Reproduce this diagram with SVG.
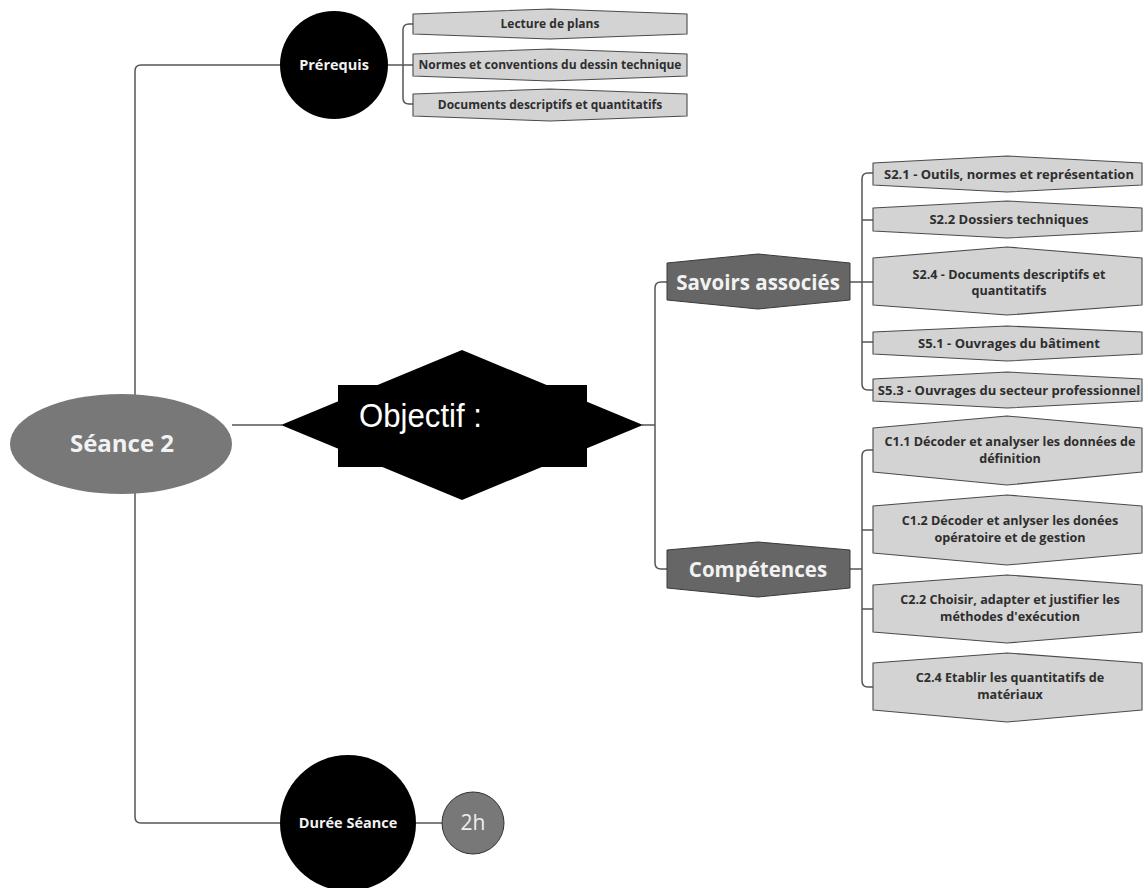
<svg xmlns="http://www.w3.org/2000/svg" width="1144" height="888" viewBox="0 0 1144 888">
<style>
.ln{fill:none;stroke:#555;stroke-width:1.5}
.box{fill:#d3d3d3;stroke:#4a4a4a;stroke-width:1.1;stroke-linejoin:round}
.hex{fill:#666;stroke:#3a3a3a;stroke-width:1;stroke-linejoin:round}
.bt{font-family:"Open Sans","Noto Sans",sans-serif;font-weight:bold;fill:#2e2e2e;text-anchor:middle}
.wt{font-family:"Open Sans","Noto Sans",sans-serif;font-weight:bold;fill:#f2f2f2;text-anchor:middle}
.s1{font-size:12px}
.s2{font-size:13px}
.s3{font-size:12.6px}
</style>
<rect width="1144" height="888" fill="#fff"/>
<g id="connectors">
<path class="ln" d="M280 65 H141 Q135 65 135 71 V817 Q135 823 141 823 H281"/>
<path class="ln" d="M232 425 H282"/>
<path class="ln" d="M388 65 H414"/>
<path class="ln" d="M414 24 H409 Q403 24 403 30 V98 Q403 104 409 104 H414"/>
<path class="ln" d="M642 425 H655"/>
<path class="ln" d="M668 282 H661 Q655 282 655 288 V563 Q655 569 661 569 H668"/>
<path class="ln" d="M850 282 H874"/>
<path class="ln" d="M874 173 H868 Q862 173 862 179 V384 Q862 390 868 390 H874"/>
<path class="ln" d="M862 220 H874 M862 342 H874"/>
<path class="ln" d="M850 569 H862"/>
<path class="ln" d="M874 450 H868 Q862 450 862 456 V681 Q862 687 868 687 H874"/>
<path class="ln" d="M862 530 H874 M862 609 H874"/>
<path class="ln" d="M416 823 H443"/>
</g>
<g id="seance">
<ellipse cx="121" cy="444" rx="111" ry="50" fill="#787878"/>
<text class="wt" x="122" y="452" font-size="24">Séance 2</text>
</g>
<g id="prerequis">
<circle cx="334" cy="65" r="54" fill="#000"/>
<text class="wt" x="334" y="70" font-size="14.5">Prérequis</text>
</g>
<g id="pr1">
<polygon class="box" points="413,14 550,9 687,14 687,34 550,39 413,34"/>
<text class="bt s1" x="550" y="28">Lecture de plans</text>
</g>
<g id="pr2">
<polygon class="box" points="413,54 550,49 687,54 687,76 550,81 413,76"/>
<text class="bt s1" x="550" y="69">Normes et conventions du dessin technique</text>
</g>
<g id="pr3">
<polygon class="box" points="413,94 550,89 687,94 687,116 550,121 413,116"/>
<text class="bt s1" x="550" y="109">Documents descriptifs et quantitatifs</text>
</g>
<g id="objectif">
<polygon points="281,425 462,350 643,425 462,500" fill="#000"/>
<rect x="338" y="385" width="249" height="82" fill="#000"/>
<text x="359" y="427" font-family="'Liberation Sans',Arial,sans-serif" font-size="33" fill="#fff" textLength="123" lengthAdjust="spacingAndGlyphs">Objectif :</text>
</g>
<g id="savoirs">
<polygon class="hex" points="667,263 758,254 850,263 850,300 758,309 667,300"/>
<text class="wt" x="758" y="290" font-size="20.5">Savoirs associés</text>
</g>
<g id="s21">
<polygon class="box" points="873,163 1007,156 1142,163 1142,185 1007,192 873,185"/>
<text class="bt s2" x="1009" y="179">S2.1 - Outils, normes et représentation</text>
</g>
<g id="s22">
<polygon class="box" points="873,208 1007,201 1142,208 1142,231 1007,238 873,231"/>
<text class="bt s2" x="1009" y="224">S2.2 Dossiers techniques</text>
</g>
<g id="s24">
<polygon class="box" points="873,258 1007,247 1142,258 1142,305 1007,315 873,305"/>
<text class="bt s3" x="1009" y="279">S2.4 - Documents descriptifs et</text>
<text class="bt s3" x="1009" y="295">quantitatifs</text>
</g>
<g id="s51">
<polygon class="box" points="873,332 1007,326 1142,332 1142,354 1007,361 873,354"/>
<text class="bt s2" x="1009" y="348">S5.1 - Ouvrages du bâtiment</text>
</g>
<g id="s53">
<polygon class="box" points="873,379 1007,372 1142,379 1142,401 1007,408 873,401"/>
<text class="bt s2" x="1009" y="395">S5.3 - Ouvrages du secteur professionnel</text>
</g>
<g id="competences">
<polygon class="hex" points="667,550 758,542 850,550 850,588 758,597 667,588"/>
<text class="wt" x="758" y="577" font-size="20.5">Compétences</text>
</g>
<g id="c11">
<polygon class="box" points="873,428 1007,416 1142,428 1142,472 1007,485 873,472"/>
<text class="bt s3" x="1010" y="446">C1.1 Décoder et analyser les données de</text>
<text class="bt s3" x="1010" y="463">définition</text>
</g>
<g id="c12">
<polygon class="box" points="873,506 1007,495 1142,506 1142,553 1007,565 873,553"/>
<text class="bt s3" x="1010" y="525">C1.2 Décoder et anlyser les donées</text>
<text class="bt s3" x="1010" y="542">opératoire et de gestion</text>
</g>
<g id="c22">
<polygon class="box" points="873,585 1007,575 1142,585 1142,632 1007,643 873,632"/>
<text class="bt s3" x="1010" y="604">C2.2 Choisir, adapter et justifier les</text>
<text class="bt s3" x="1010" y="621">méthodes d'exécution</text>
</g>
<g id="c24">
<polygon class="box" points="873,663 1007,653 1142,663 1142,710 1007,722 873,710"/>
<text class="bt s3" x="1010" y="682">C2.4 Etablir les quantitatifs de</text>
<text class="bt s3" x="1010" y="699">matériaux</text>
</g>
<g id="duree">
<circle cx="348" cy="823" r="68" fill="#000"/>
<text class="wt" x="348" y="828" font-size="14.5">Durée Séance</text>
</g>
<g id="h2">
<circle cx="473" cy="823" r="31" fill="#787878" stroke="#333" stroke-width="1"/>
<text x="473" y="830" font-family="'Open Sans','Noto Sans',sans-serif" font-size="21" fill="#eee" text-anchor="middle">2h</text>
</g>
</svg>
